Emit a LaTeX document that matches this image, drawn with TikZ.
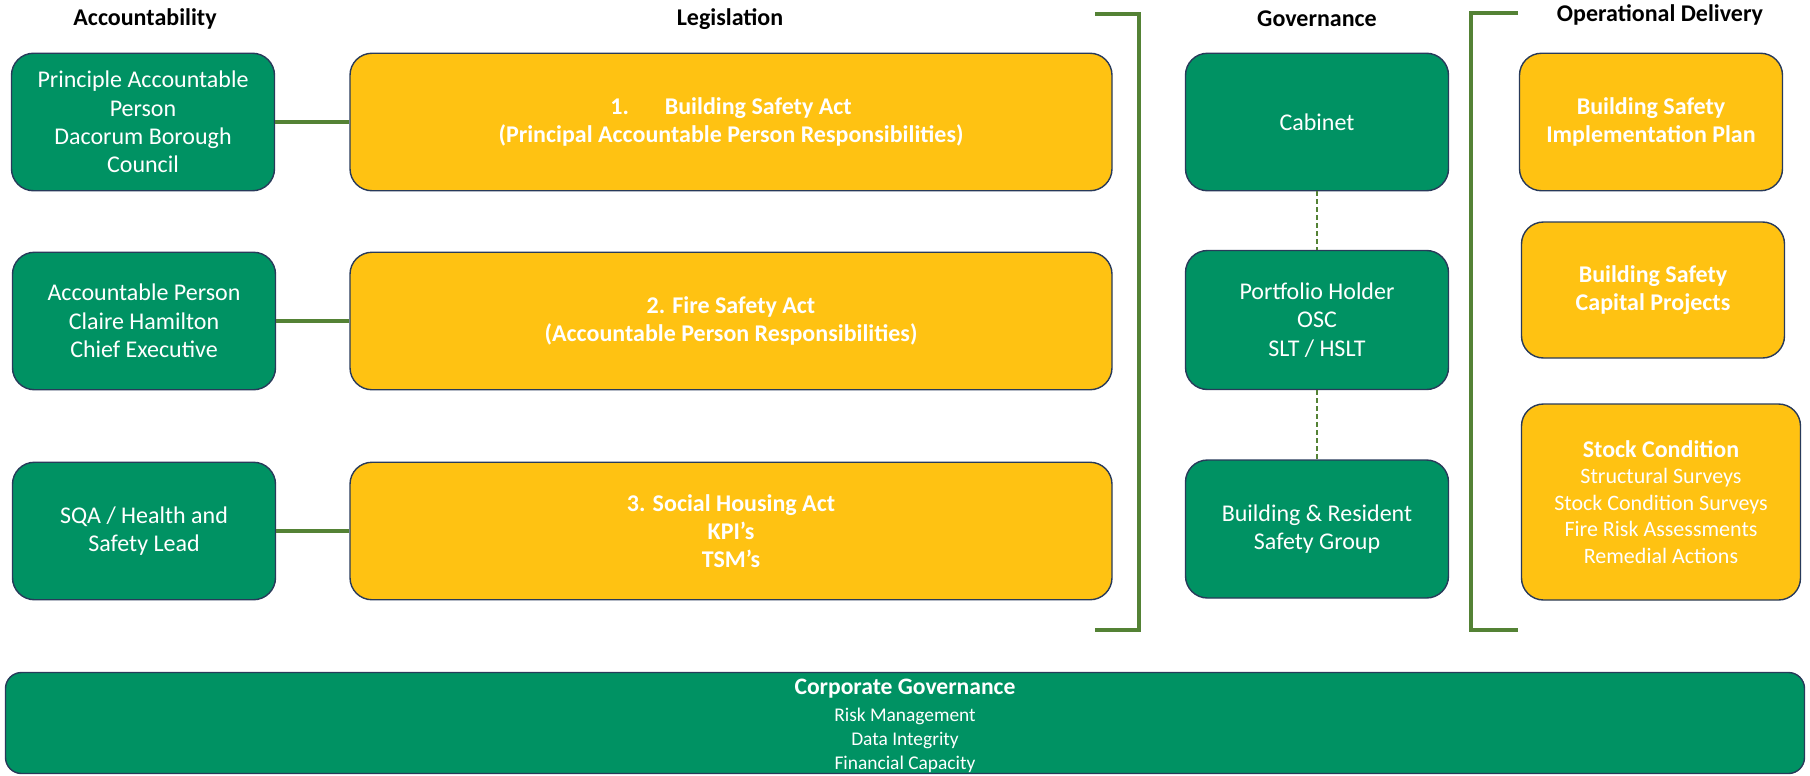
\documentclass[tikz,border=0pt]{standalone}
\usepackage{fontspec}
\setmainfont{Carlito}
\usetikzlibrary{positioning}

\definecolor{boxgreen}{RGB}{0,146,99}
\definecolor{boxgold}{RGB}{255,194,18}
\definecolor{edgeblue}{RGB}{40,58,90}
\definecolor{linegreen}{RGB}{84,130,53}

\begin{document}
\begin{tikzpicture}[x=0.5pt,y=-0.5pt,
	greenbox/.style={draw=edgeblue,line width=0.7pt,fill=boxgreen,rounded corners=11pt,text=white,align=center,inner sep=2pt,minimum width=131.5pt,minimum height=68.75pt,font=\fontsize{12}{14.2}\selectfont},
	goldbox/.style={greenbox,fill=boxgold,font=\bfseries\fontsize{12}{14}\selectfont},
	legbox/.style={goldbox,minimum width=381pt},
	header/.style={font=\bfseries\fontsize{12}{14}\selectfont,inner sep=0pt},
	bracket/.style={linegreen,line width=2.3pt},
	link/.style={linegreen,line width=1.7pt}]

	\useasboundingbox (0,0) rectangle (1810,776);

	% column titles
	\node[header] (hdacc) at (145,19) {Accountability};
	\node[header] (hdleg) at (730,19) {Legislation};
	\node[header] (hdgov) at (1317,19) {Governance};
	\node[header] (hdops) at (1660,15) {Operational Delivery};

	% accountability
	\node[greenbox] (acc1) at (143,122) {Principle Accountable\\Person\\Dacorum Borough\\Council};
	\node[greenbox] (acc2) at (144,321) {Accountable Person\\Claire Hamilton\\Chief Executive};
	\node[greenbox] (acc3) at (144,531) {SQA / Health and\\Safety Lead};

	% legislation
	\node[legbox] (leg1) at (731,122) {1.\hspace{1.5em}Building Safety Act\\(Principal Accountable Person Responsibilities)};
	\node[legbox] (leg2) at (731,321) {2. Fire Safety Act\\(Accountable Person Responsibilities)};
	\node[legbox] (leg3) at (731,531) {3. Social Housing Act\\KPI’s\\TSM’s};

	\draw[link] (acc1) -- (leg1);
	\draw[link] (acc2) -- (leg2);
	\draw[link] (acc3) -- (leg3);

	\draw[bracket] (1095,14) -- (1139,14) -- (1139,630) -- (1095,630);

	% governance
	\node[greenbox] (gov1) at (1317,122) {Cabinet};
	\node[greenbox,minimum height=69.5pt] (gov2) at (1317,320) {Portfolio Holder\\OSC\\SLT / HSLT};
	\node[greenbox,minimum height=69pt] (gov3) at (1317,529) {Building \& Resident\\Safety Group};

	\draw[linegreen,line width=0.6pt,dash pattern=on 2.5pt off 1.5pt] (gov1) -- (gov2);
	\draw[linegreen,line width=0.6pt,dash pattern=on 2.5pt off 1.5pt] (gov2) -- (gov3);

	\draw[bracket] (1518,13) -- (1471,13) -- (1471,630) -- (1518,630);

	% operational delivery
	\node[goldbox] (ops1) at (1651,122) {Building Safety\\Implementation Plan};
	\node[goldbox,minimum height=68pt] (ops2) at (1653,290) {Building Safety\\Capital Projects};
	\node[goldbox,minimum width=139.5pt,minimum height=98pt,font=\fontsize{11}{13.25}\selectfont] (ops3) at (1661,502)
		{{\bfseries\fontsize{12}{14}\selectfont Stock Condition}\\Structural Surveys\\Stock Condition Surveys\\Fire Risk Assessments\\Remedial Actions};

	% bottom band
	\node[greenbox,inner sep=0pt,minimum width=899.5pt,minimum height=50.5pt,rounded corners=8pt,font=\fontsize{9.7}{12}\selectfont] (corp) at (905,723)
		{\rule{0pt}{10.7pt}{\bfseries\fontsize{11.8}{14}\selectfont Corporate Governance}\\[1.5pt]Risk Management\\Data Integrity\\Financial Capacity};

\end{tikzpicture}
\end{document}
